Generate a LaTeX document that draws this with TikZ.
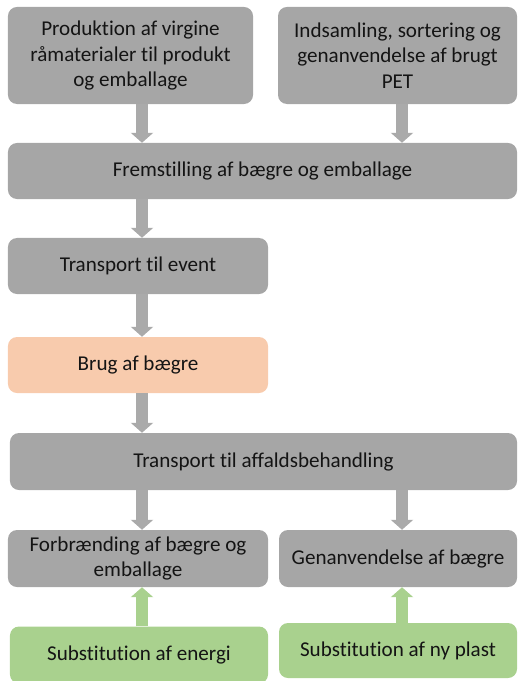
\documentclass[tikz,border=0pt]{standalone}
\usepackage{fontspec}
\setmainfont[Ligatures={NoCommon}]{Carlito}
\definecolor{graaBoks}{RGB}{166,166,166}
\definecolor{graaPil}{RGB}{170,170,170}
\definecolor{orangeBrug}{RGB}{248,203,173}
\definecolor{groenSub}{RGB}{169,209,142}
\definecolor{tekstFarve}{RGB}{20,20,20}
\usetikzlibrary{arrows.meta,positioning}
\tikzset{
  boks/.style={rectangle, fill=graaBoks, rounded corners=0.27cm,
               minimum height=1.68cm, align=center, text=tekstFarve,
               font=\fontsize{18}{21.5}\selectfont, inner sep=0pt},
  brugboks/.style={boks, fill=orangeBrug},
  subboks/.style={boks, fill=groenSub},
  pil/.style={-{Triangle[length=0.3cm, width=0.66cm]}, line width=0.36cm, graaPil},
  groenpil/.style={-{Triangle[length=0.3cm, width=0.66cm]}, line width=0.36cm, groenSub},
}

\begin{document}
\begin{tikzpicture}[x=0.03cm, y=-0.03cm]
  \useasboundingbox (0,0) rectangle (518,681);
  % kolonner for pilene
  \coordinate (kolV) at (142,0);
  \coordinate (kolH) at (402,0);
  % bokse
  \node[boks, minimum width=7.35cm, minimum height=2.91cm] (prod) at (130.5,55.5)
    {Produktion af virgine\\råmaterialer til produkt\\og emballage};
  \node[boks, minimum width=7.17cm, minimum height=2.91cm] (indsam) at (397.5,55.5)
    {Indsamling, sortering og\\genanvendelse af brugt\\PET};
  \node[boks, minimum width=15.27cm] (frem) at (262.5,171) {Fremstilling af bægre og emballage};
  \node[boks, minimum width=7.8cm] (tevent) at (138,266) {Transport til event};
  \node[brugboks, minimum width=7.8cm] (brug) at (138,365) {Brug af bægre};
  \node[boks, minimum width=15.21cm, minimum height=1.71cm] (taff) at (263.5,461.5) {Transport til affaldsbehandling};
  \node[boks, minimum width=7.8cm, minimum height=1.71cm] (forb) at (138,558.5) {Forbrænding af bægre og\\emballage};
  \node[boks, minimum width=7.14cm, minimum height=1.71cm] (genan) at (398,558.5) {Genanvendelse af bægre};
  \node[subboks, minimum width=7.74cm, minimum height=1.71cm] (subE) at (139,655) {Substitution af energi};
  \node[subboks, minimum width=7.14cm, minimum height=1.65cm] (subP) at (398,650.5) {Substitution af ny plast};
  % pile
  \draw[pil] (prod.south -| kolV) -- (frem.north -| kolV);
  \draw[pil] (indsam.south -| kolH) -- (frem.north -| kolH);
  \draw[pil] (frem.south -| kolV) -- (tevent.north -| kolV);
  \draw[pil] (tevent.south -| kolV) -- (brug.north -| kolV);
  \draw[pil] (brug.south -| kolV) -- (taff.north -| kolV);
  \draw[pil] (taff.south -| kolV) -- (forb.north -| kolV);
  \draw[pil] (taff.south -| kolH) -- (genan.north -| kolH);
  \draw[groenpil] (subE.north -| kolV) -- (forb.south -| kolV);
  \draw[groenpil] (subP.north -| kolH) -- (genan.south -| kolH);
\end{tikzpicture}
\end{document}
